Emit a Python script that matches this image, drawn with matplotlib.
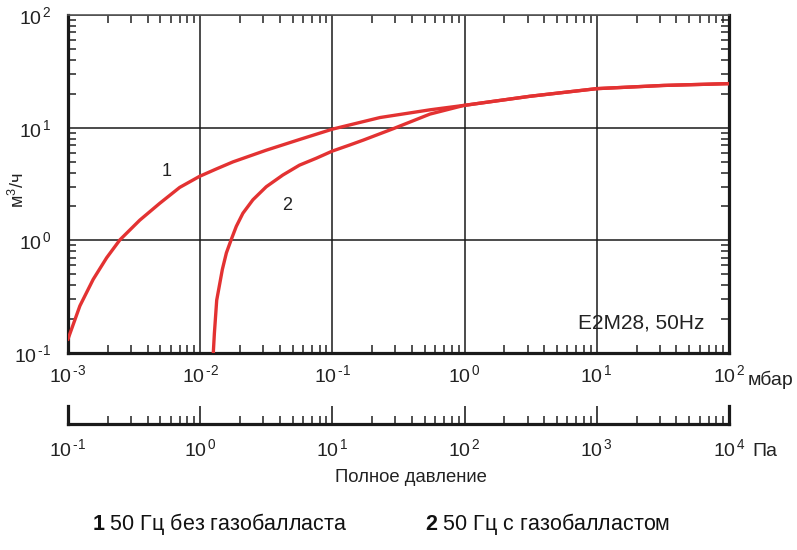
import matplotlib
matplotlib.use('Agg')
import matplotlib.pyplot as plt
import matplotlib.ticker as mticker
import numpy as np

plt.rcParams['font.family'] = ['Liberation Sans', 'DejaVu Sans']
plt.rcParams['mathtext.fontset'] = 'custom'
plt.rcParams['mathtext.rm'] = 'Liberation Sans'
plt.rcParams['mathtext.it'] = 'Liberation Sans:italic'
plt.rcParams['mathtext.bf'] = 'Liberation Sans:bold'
plt.rcParams['axes.unicode_minus'] = False

# 曲线 1：50 Гц без газобалласта（读图估计，мбар / м3/ч）
p1 = [0.001, 0.00123, 0.00155, 0.00196, 0.00247, 0.00349, 0.00494, 0.0070, 0.0099, 0.01324,
      0.0177, 0.0316, 0.0564, 0.1, 0.229, 0.547, 1.0, 1.31, 3.13, 10, 31.9, 100]
s1 = [0.133, 0.262, 0.45, 0.70, 1.01, 1.51, 2.13, 2.95, 3.70, 4.30,
      4.97, 6.31, 7.85, 9.7, 12.3, 14.4, 15.8, 16.5, 19.0, 22.2, 23.7, 24.6]

# 曲线 2：50 Гц с газобалластом
p2 = [0.01256, 0.0128, 0.01333, 0.01471, 0.01578, 0.01719, 0.01875, 0.02104, 0.02504, 0.0316,
      0.0422, 0.0564, 0.0754, 0.1, 0.134, 0.171, 0.289, 0.547, 0.977, 1.31, 3.13, 10, 31.9, 100]
s2 = [0.1, 0.149, 0.294, 0.552, 0.774, 1.02, 1.33, 1.74, 2.29, 2.99,
      3.80, 4.65, 5.35, 6.2, 6.99, 7.75, 9.8, 13.2, 15.7, 16.5, 19.0, 22.2, 23.7, 24.6]

xlim_mbar = (1e-3, 1e2)
xlim_pa = (1e-1, 1e4)
ylim = (1e-1, 1e2)

red = '#e33232'
ink = '#222222'


def pow10_label(v, pos):
    # 10^n 标签，负号用短横线
    n = int(round(np.log10(v)))
    e = r'\text{-}%d' % (-n) if n < 0 else '%d' % n
    return r'$10^{\,%s}$' % e


fig = plt.figure(figsize=(7.97, 5.5), dpi=100)

W, H = 797.0, 550.0
left, right, top, bottom = 68, 729, 15, 353
ax = fig.add_axes([left / W, 1 - bottom / H, (right - left) / W, (bottom - top) / H])

ax.plot(p1, s1, color=red, lw=2.4, solid_joinstyle='round', zorder=3)
ax.plot(p2, s2, color=red, lw=2.4, solid_joinstyle='round', zorder=3)

ax.set_xscale('log')
ax.set_yscale('log')
ax.set_xlim(*xlim_mbar)
ax.set_ylim(*ylim)

for axis in [ax.xaxis, ax.yaxis]:
    axis.set_major_locator(mticker.LogLocator(base=10, numticks=10))
    axis.set_minor_locator(mticker.LogLocator(base=10, subs=np.arange(2, 10), numticks=20))
    axis.set_major_formatter(mticker.FuncFormatter(pow10_label))
    axis.set_minor_formatter(mticker.NullFormatter())

ax.grid(True, which='major', color='#1a1a1a', lw=1.1)
ax.tick_params(which='both', direction='in', top=True, right=True, labelsize=14, colors=ink)
ax.tick_params(which='major', length=0)
ax.tick_params(which='minor', length=6, width=1.1)
ax.tick_params(axis='x', which='major', pad=8)
ax.tick_params(axis='y', which='major', pad=12)

for side in ['left', 'bottom', 'right']:
    ax.spines[side].set_linewidth(2.3)
    ax.spines[side].set_color('#1a1a1a')
ax.spines['top'].set_linewidth(1.2)
ax.spines['top'].set_color('#555555')

fig.text(167 / W, 1 - 172 / H, '1', fontsize=13, color=ink, ha='center', va='center')
fig.text(287 / W, 1 - 205 / H, '2', fontsize=13, color=ink, ha='center', va='center')

ax.text(0.962, 0.09, 'E2M28, 50Hz', transform=ax.transAxes, fontsize=15,
        color=ink, ha='right', va='center')

fig.text(18 / W, 1 - 190 / H, 'м$^3$/ч', rotation=90, fontsize=13, color=ink,
         ha='center', va='center')
fig.text(748 / W, 1 - 380 / H, 'мбар', fontsize=14, color=ink, ha='left', va='center')

# 第二个横轴：Па
pa_line = 424
pa_h = 18
ax2 = fig.add_axes([left / W, 1 - pa_line / H, (right - left) / W, pa_h / H])
ax2.set_xscale('log')
ax2.set_xlim(*xlim_pa)
ax2.set_yticks([])
ax2.patch.set_visible(False)
ax2.spines['top'].set_visible(False)
for side in ['left', 'right', 'bottom']:
    ax2.spines[side].set_linewidth(2.3)
    ax2.spines[side].set_color('#1a1a1a')
ax2.xaxis.set_major_locator(mticker.LogLocator(base=10, numticks=10))
ax2.xaxis.set_minor_locator(mticker.LogLocator(base=10, subs=np.arange(2, 10), numticks=20))
ax2.xaxis.set_major_formatter(mticker.FuncFormatter(pow10_label))
ax2.xaxis.set_minor_formatter(mticker.NullFormatter())
ax2.tick_params(which='both', direction='in', labelsize=14, colors=ink)
ax2.tick_params(which='major', length=13, width=1.2, pad=10)
ax2.tick_params(which='minor', length=6, width=1.1)

fig.text(752 / W, 1 - 452 / H, 'Па', fontsize=14, color=ink, ha='left', va='center')
fig.text(411 / W, 1 - 478 / H, 'Полное давление', fontsize=13.3, color=ink,
         ha='center', va='center')

fig.text(92 / W, 1 - 524 / H, r'$\mathbf{1}$ 50 Гц без газобалласта', fontsize=15.5,
         color='#111111', ha='left', va='center')
fig.text(425 / W, 1 - 524 / H, r'$\mathbf{2}$ 50 Гц с газобалластом', fontsize=15.5,
         color='#111111', ha='left', va='center')

fig.savefig('out.png', dpi=100)
